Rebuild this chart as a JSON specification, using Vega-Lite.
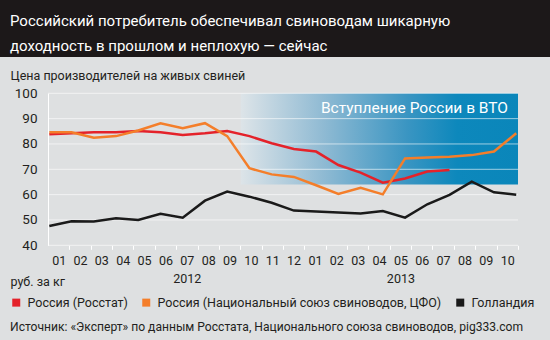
{
  "$schema": "https://vega.github.io/schema/vega-lite/v6.json",
  "width": 550,
  "height": 283,
  "autosize": {"type": "none"},
  "padding": {"left": 0, "right": 0, "top": 57, "bottom": 0},
  "background": "#1c1819",
  "config": {
    "view": {"fill": "#dee0e1", "stroke": null},
    "font": "Roboto",
    "axis": {"labelOverlap": false, "labelFlush": false}
  },
  "title": {
    "text": ["Российский потребитель обеспечивал свиноводам шикарную", "доходность в прошлом и неплохую — сейчас"],
    "anchor": "start",
    "frame": "group",
    "dx": 10,
    "offset": 3,
    "color": "#ffffff",
    "font": "Roboto",
    "fontSize": 15,
    "fontWeight": "normal",
    "lineHeight": 25
  },
  "datasets": {
    "prices": [
      {"series": "Россия (Росстат)", "m": 0, "price": 83.8},
      {"series": "Россия (Росстат)", "m": 1, "price": 84.2},
      {"series": "Россия (Росстат)", "m": 2, "price": 84.6},
      {"series": "Россия (Росстат)", "m": 3, "price": 84.6},
      {"series": "Россия (Росстат)", "m": 4, "price": 85.1},
      {"series": "Россия (Росстат)", "m": 5, "price": 84.6},
      {"series": "Россия (Росстат)", "m": 6, "price": 83.5},
      {"series": "Россия (Росстат)", "m": 7, "price": 84.2},
      {"series": "Россия (Росстат)", "m": 8, "price": 85.1},
      {"series": "Россия (Росстат)", "m": 9, "price": 83.1},
      {"series": "Россия (Росстат)", "m": 10, "price": 80.3},
      {"series": "Россия (Росстат)", "m": 11, "price": 78.0},
      {"series": "Россия (Росстат)", "m": 12, "price": 77.0},
      {"series": "Россия (Росстат)", "m": 13, "price": 71.7},
      {"series": "Россия (Росстат)", "m": 14, "price": 68.7},
      {"series": "Россия (Росстат)", "m": 15, "price": 64.7},
      {"series": "Россия (Росстат)", "m": 16, "price": 66.4},
      {"series": "Россия (Росстат)", "m": 17, "price": 69.1},
      {"series": "Россия (Росстат)", "m": 18, "price": 69.7},
      {"series": "Россия (Национальный союз свиноводов, ЦФО)", "m": 0, "price": 84.6},
      {"series": "Россия (Национальный союз свиноводов, ЦФО)", "m": 1, "price": 84.6},
      {"series": "Россия (Национальный союз свиноводов, ЦФО)", "m": 2, "price": 82.5},
      {"series": "Россия (Национальный союз свиноводов, ЦФО)", "m": 3, "price": 83.1},
      {"series": "Россия (Национальный союз свиноводов, ЦФО)", "m": 4, "price": 85.3},
      {"series": "Россия (Национальный союз свиноводов, ЦФО)", "m": 5, "price": 88.2},
      {"series": "Россия (Национальный союз свиноводов, ЦФО)", "m": 6, "price": 86.2},
      {"series": "Россия (Национальный союз свиноводов, ЦФО)", "m": 7, "price": 88.2},
      {"series": "Россия (Национальный союз свиноводов, ЦФО)", "m": 8, "price": 83.1},
      {"series": "Россия (Национальный союз свиноводов, ЦФО)", "m": 9, "price": 70.4},
      {"series": "Россия (Национальный союз свиноводов, ЦФО)", "m": 10, "price": 68.0},
      {"series": "Россия (Национальный союз свиноводов, ЦФО)", "m": 11, "price": 67.0},
      {"series": "Россия (Национальный союз свиноводов, ЦФО)", "m": 12, "price": 63.7},
      {"series": "Россия (Национальный союз свиноводов, ЦФО)", "m": 13, "price": 60.3},
      {"series": "Россия (Национальный союз свиноводов, ЦФО)", "m": 14, "price": 62.7},
      {"series": "Россия (Национальный союз свиноводов, ЦФО)", "m": 15, "price": 60.1},
      {"series": "Россия (Национальный союз свиноводов, ЦФО)", "m": 16, "price": 74.3},
      {"series": "Россия (Национальный союз свиноводов, ЦФО)", "m": 17, "price": 74.7},
      {"series": "Россия (Национальный союз свиноводов, ЦФО)", "m": 18, "price": 75.0},
      {"series": "Россия (Национальный союз свиноводов, ЦФО)", "m": 19, "price": 75.6},
      {"series": "Россия (Национальный союз свиноводов, ЦФО)", "m": 20, "price": 77.0},
      {"series": "Россия (Национальный союз свиноводов, ЦФО)", "m": 21, "price": 84.2},
      {"series": "Голландия", "m": 0, "price": 47.6},
      {"series": "Голландия", "m": 1, "price": 49.5},
      {"series": "Голландия", "m": 2, "price": 49.4},
      {"series": "Голландия", "m": 3, "price": 50.7},
      {"series": "Голландия", "m": 4, "price": 50.0},
      {"series": "Голландия", "m": 5, "price": 52.4},
      {"series": "Голландия", "m": 6, "price": 50.9},
      {"series": "Голландия", "m": 7, "price": 57.6},
      {"series": "Голландия", "m": 8, "price": 61.2},
      {"series": "Голландия", "m": 9, "price": 59.2},
      {"series": "Голландия", "m": 10, "price": 56.8},
      {"series": "Голландия", "m": 11, "price": 53.7},
      {"series": "Голландия", "m": 12, "price": 53.3},
      {"series": "Голландия", "m": 13, "price": 52.9},
      {"series": "Голландия", "m": 14, "price": 52.6},
      {"series": "Голландия", "m": 15, "price": 53.5},
      {"series": "Голландия", "m": 16, "price": 50.9},
      {"series": "Голландия", "m": 17, "price": 56.2},
      {"series": "Голландия", "m": 18, "price": 59.9},
      {"series": "Голландия", "m": 19, "price": 65.1},
      {"series": "Голландия", "m": 20, "price": 60.9},
      {"series": "Голландия", "m": 21, "price": 60.0}
    ],
    "band": [
      {"label": "Вступление России в ВТО", "from": 8.607, "to": 21.08, "low": 64, "high": 100}
    ],
    "grid": [
      {"v": 40}, {"v": 50}, {"v": 60}, {"v": 70}, {"v": 80}, {"v": 90}, {"v": 100}
    ]
  },
  "layer": [
    {
      "data": {"name": "band"},
      "mark": {
        "type": "rect",
        "fill": {
          "gradient": "linear",
          "x1": 0, "y1": 0, "x2": 1, "y2": 0,
          "stops": [
            {"offset": 0, "color": "#dde4e8"},
            {"offset": 0.3, "color": "#8fbad3"},
            {"offset": 0.6, "color": "#3a95c2"},
            {"offset": 0.78, "color": "#0d88bc"},
            {"offset": 1, "color": "#0a86ba"}
          ]
        }
      },
      "encoding": {
        "x": {
          "field": "from",
          "type": "quantitative",
          "scale": {"domain": [-0.06, 21.08], "range": [48, 518], "nice": false, "zero": false},
          "axis": {
            "orient": "bottom",
            "offset": -94.7,
            "values": [0.420, 1.381, 2.341, 3.302, 4.263, 5.224, 6.184, 7.145, 8.105, 9.066, 10.027, 10.987, 11.948, 12.909, 13.869, 14.830, 15.791, 16.751, 17.712, 18.672, 19.633, 20.594],
            "tickCount": 40,
            "labelExpr": "round((datum.value-0.4203)/0.96063)==6 ? ['07','2012'] : round((datum.value-0.4203)/0.96063)==16 ? ['05','2013'] : (round((datum.value-0.4203)/0.96063)%12 < 9 ? '0' : '') + (round((datum.value-0.4203)/0.96063)%12 + 1)",
            "labelOverlap": false,
            "labelFlush": false,
            "labelBound": false,
            "labelFont": "Roboto",
            "labelFontSize": 12.5,
            "labelColor": "#231f20",
            "labelPadding": 5,
            "labelBaseline": "top",
            "labelLineHeight": 18,
            "labelOffset": -10.68,
            "ticks": true,
            "tickColor": "#ffffff",
            "tickSize": 4,
            "tickWidth": 1,
            "tickOffset": 10.68,
            "domain": false,
            "grid": false,
            "title": "руб. за кг",
            "titleX": 10,
            "titleY": 40.2,
            "titleAlign": "left",
            "titleBaseline": "alphabetic",
            "titleFont": "Roboto",
            "titleFontSize": 12.5,
            "titleFontWeight": "normal",
            "titleColor": "#231f20"
          }
        },
        "x2": {"field": "to"},
        "y": {
          "field": "low",
          "type": "quantitative",
          "scale": {"domain": [40, 100], "range": [188.3, 36.3], "nice": false, "zero": false},
          "axis": {
            "orient": "left",
            "offset": -48,
            "values": [40, 50, 60, 70, 80, 90, 100],
            "tickCount": 20,
            "grid": false,
            "ticks": false,
            "domain": true,
            "domainColor": "#ffffff",
            "domainWidth": 1,
            "labelOverlap": false,
            "labelFont": "Roboto",
            "labelFontSize": 13.5,
            "labelColor": "#231f20",
            "labelPadding": 11,
            "title": "Цена производителей на живых свиней",
            "titleAngle": 0,
            "titleAlign": "left",
            "titleBaseline": "alphabetic",
            "titleX": -38,
            "titleY": 22.5,
            "titleFont": "Roboto",
            "titleFontSize": 12.5,
            "titleFontWeight": "normal",
            "titleColor": "#231f20"
          }
        },
        "y2": {"field": "high"}
      }
    },
    {
      "data": {"name": "grid"},
      "mark": {"type": "rule", "color": "#ffffff", "strokeWidth": 1, "opacity": 0.6},
      "encoding": {
        "y": {"field": "v", "type": "quantitative"},
        "x": {"datum": -0.06},
        "x2": {"datum": 21.08}
      }
    },
    {
      "data": {"name": "band"},
      "mark": {"type": "text", "align": "right", "baseline": "alphabetic", "dx": -10, "dy": 19.7, "color": "#ffffff", "font": "Roboto", "fontSize": 15.5},
      "encoding": {
        "x": {"field": "to", "type": "quantitative"},
        "y": {"field": "high", "type": "quantitative"},
        "text": {"field": "label"}
      }
    },
    {
      "data": {"name": "prices"},
      "mark": {"type": "line", "strokeWidth": 2.5},
      "encoding": {
        "x": {"field": "m", "type": "quantitative"},
        "y": {"field": "price", "type": "quantitative"},
        "color": {
          "field": "series",
          "type": "nominal",
          "scale": {
            "domain": ["Россия (Росстат)", "Россия (Национальный союз свиноводов, ЦФО)", "Голландия"],
            "range": ["#e4222a", "#f47e2a", "#1a1a1a"]
          },
          "legend": {
            "orient": "none",
            "legendX": 10,
            "legendY": 239,
            "direction": "horizontal",
            "padding": 0,
            "title": "Источник: «Эксперт» по данным Росстата, Национального союза свиноводов, pig333.com",
            "titleOrient": "bottom",
            "titleAnchor": "start",
            "titleFont": "Roboto",
            "titleFontSize": 12.1,
            "titleFontWeight": "normal",
            "titleColor": "#231f20",
            "titleLimit": 600,
            "titlePadding": 8,
            "symbolType": "square",
            "symbolSize": 16,
            "symbolStrokeWidth": 4,
            "symbolOpacity": 1,
            "labelFont": "Roboto",
            "labelFontSize": 12.5,
            "labelColor": "#231f20",
            "labelOffset": 5,
            "labelLimit": 400,
            "columnPadding": 8
          }
        }
      }
    },
    {
      "mark": {"type": "rule", "color": "#ffffff", "strokeWidth": 1.5},
      "encoding": {"y": {"datum": 21.56}}
    },
    {
      "mark": {"type": "rule", "color": "#ffffff", "strokeWidth": 1.5},
      "encoding": {"y": {"datum": 12.48}}
    }
  ]
}
